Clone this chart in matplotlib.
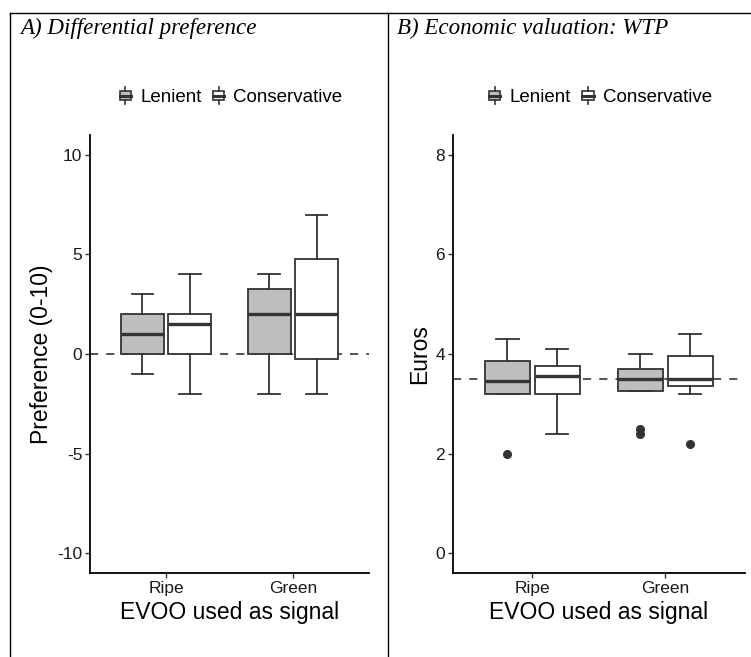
import matplotlib
matplotlib.use("Agg")
import matplotlib.pyplot as plt
from matplotlib.lines import Line2D
from matplotlib.patches import Rectangle, Patch
from matplotlib.legend_handler import HandlerBase

plt.rcParams['font.family'] = ['Liberation Sans', 'DejaVu Sans']

# ---- data -------------------------------------------------------------
categories = ["Ripe", "Green"]
groups = ["Lenient", "Conservative"]
group_fill = {"Lenient": "#bebebe", "Conservative": "#ffffff"}

# Differential preference (0-10): [Ripe, Green]
pref_lenient = dict(whislo=[-1, -2], q1=[0, 0], med=[1, 2], q3=[2, 3.25], whishi=[3, 4],
                    fliers=[[], []])
pref_conserv = dict(whislo=[-2, -2], q1=[0, -0.25], med=[1.5, 2], q3=[2, 4.75], whishi=[4, 7],
                    fliers=[[], []])
pref_ref = 0.0

# Willingness to pay (Euros): [Ripe, Green]
wtp_lenient = dict(whislo=[3.2, 3.25], q1=[3.2, 3.25], med=[3.45, 3.5], q3=[3.85, 3.7],
                   whishi=[4.3, 4.0], fliers=[[2.0], [2.5, 2.4]])
wtp_conserv = dict(whislo=[2.4, 3.2], q1=[3.2, 3.35], med=[3.55, 3.5], q3=[3.75, 3.95],
                   whishi=[4.1, 4.4], fliers=[[], [2.2]])
wtp_ref = 3.5

EDGE = "#333333"
DODGE = 0.1875
BOX_W = 0.3375


class BoxKey(HandlerBase):
    """Legend key drawn as a miniature box-and-whisker glyph."""
    def create_artists(self, legend, orig, xd, yd, w, h, fontsize, trans):
        x0, y0 = -xd, -yd
        cx = x0 + w / 2
        bx0, bx1 = x0 + 0.18 * w, x0 + 0.82 * w
        rect = Rectangle((bx0, y0 + 0.22 * h), bx1 - bx0, 0.56 * h,
                         facecolor=orig.get_facecolor(), edgecolor=EDGE, lw=1.2,
                         transform=trans)
        wl = Line2D([cx, cx], [y0 - 0.05 * h, y0 + 0.22 * h], color=EDGE, lw=1.2,
                    transform=trans)
        wh = Line2D([cx, cx], [y0 + 0.78 * h, y0 + 1.05 * h], color=EDGE, lw=1.2,
                    transform=trans)
        md = Line2D([bx0, bx1], [y0 + 0.5 * h] * 2, color=EDGE, lw=2.2, transform=trans)
        return [rect, wl, wh, md]


def stats_list(d):
    out = []
    for i in range(len(categories)):
        out.append(dict(whislo=d["whislo"][i], q1=d["q1"][i], med=d["med"][i],
                        q3=d["q3"][i], whishi=d["whishi"][i], fliers=d["fliers"][i]))
    return out


def draw_panel(ax, lenient, conserv, ref, ylim, yticks, ylabel):
    base = list(range(1, len(categories) + 1))
    ax.axhline(ref, color="#444444", lw=1.3, ls=(0, (4.5, 4.5)), zorder=1)
    for d, grp, off in [(lenient, "Lenient", -DODGE), (conserv, "Conservative", DODGE)]:
        pos = [b + off for b in base]
        ax.bxp(stats_list(d), positions=pos, widths=BOX_W, capwidths=BOX_W / 2,
               patch_artist=True, manage_ticks=False,
               boxprops=dict(facecolor=group_fill[grp], edgecolor=EDGE, lw=1.3),
               medianprops=dict(color=EDGE, lw=2.4),
               whiskerprops=dict(color=EDGE, lw=1.3),
               capprops=dict(color=EDGE, lw=1.3),
               flierprops=dict(marker='o', markerfacecolor=EDGE, markeredgecolor=EDGE,
                               markersize=5.5),
               zorder=2)
    ax.set_xlim(0.4, len(categories) + 0.6)
    ax.set_ylim(*ylim)
    ax.set_xticks(base)
    ax.set_xticklabels(categories)
    ax.set_yticks(yticks)
    ax.set_yticklabels([str(t) for t in yticks])
    for s in ["top", "right"]:
        ax.spines[s].set_visible(False)
    for s in ["left", "bottom"]:
        ax.spines[s].set_color("black")
        ax.spines[s].set_linewidth(1.3)
    ax.tick_params(axis="both", length=3.5, width=1.0, color="#333333",
                   labelsize=12.5, labelcolor="#1a1a1a", pad=2)
    ax.set_xlabel("EVOO used as signal", fontsize=16.5, color="black", labelpad=4)
    ax.set_ylabel(ylabel, fontsize=16.5, color="black", labelpad=3)
    handles = [Patch(facecolor=group_fill[g], edgecolor=EDGE, label=g) for g in groups]
    ax.legend(handles=handles, loc="center", bbox_to_anchor=(0.5, 1 + 38 / 438), ncol=2,
              frameon=False, fontsize=13.5, handler_map={Patch: BoxKey()},
              handlelength=0.95, handleheight=0.9, handletextpad=0.3,
              columnspacing=0.45, borderaxespad=0, borderpad=0)


fig = plt.figure(figsize=(7.51, 6.57), dpi=100)
axA = fig.add_axes([90 / 751, 1 - 573 / 657, 279 / 751, 438 / 657])
axB = fig.add_axes([452.5 / 751, 1 - 573 / 657, 292.5 / 751, 438 / 657])

draw_panel(axA, pref_lenient, pref_conserv, pref_ref, (-11, 11), [-10, -5, 0, 5, 10],
           "Preference (0-10)")
draw_panel(axB, wtp_lenient, wtp_conserv, wtp_ref, (-0.4, 8.4), [0, 2, 4, 6, 8], "Euros")

# panel captions
fig.text(20 / 751, 1 - 28 / 657, "A) Differential preference", family="Liberation Serif",
         style="italic", fontsize=16.6, va="center", ha="left")
fig.text(397 / 751, 1 - 28 / 657, "B) Economic valuation: WTP", family="Liberation Serif",
         style="italic", fontsize=16.6, va="center", ha="left")

# table-style frame around the two panels
ytop = 1 - 13 / 657
for xs, ys in [([10 / 751, 1.0], [ytop, ytop]),
               ([10 / 751, 10 / 751], [0, ytop]),
               ([387.5 / 751, 387.5 / 751], [0, ytop])]:
    fig.add_artist(Line2D(xs, ys, transform=fig.transFigure, color="black", lw=1.0))

fig.savefig("out.png", dpi=100, facecolor="white")
